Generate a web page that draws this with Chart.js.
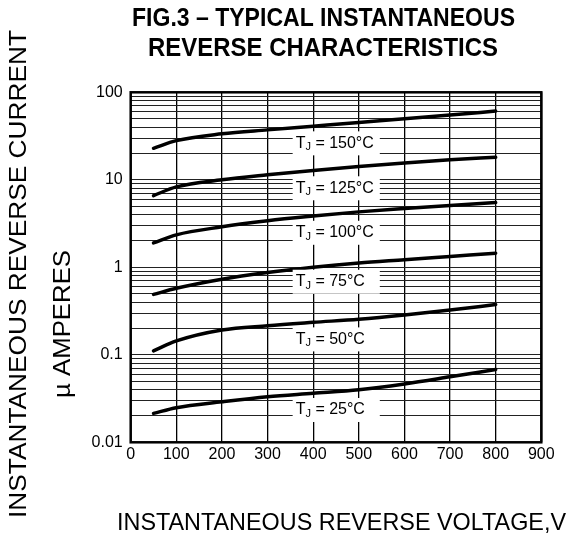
<!DOCTYPE html>
<html>
<head>
<meta charset="utf-8">
<script src="https://cdn.jsdelivr.net/npm/chart.js@4/dist/chart.umd.min.js"></script>
<style>
  html, body { margin: 0; padding: 0; background: #fff; }
  #wrap { width: 569px; height: 549px; }
</style>
</head>
<body>
<div id="wrap"><canvas id="fig3"></canvas></div>
<script>
// voltage points (V)
const voltages = [50, 100, 200, 300, 400, 500, 600, 700, 800];

// reverse current (uA) per junction temperature
const tj150 = [22.9, 28, 33.5, 37.2, 41, 45.2, 50, 55, 61];
const tj125 = [6.6, 8.3, 10.0, 11.4, 12.8, 14.2, 15.6, 16.9, 18.1];
const tj100 = [1.9, 2.35, 2.9, 3.4, 3.85, 4.3, 4.7, 5.1, 5.5];
const tj75 = [0.49, 0.575, 0.73, 0.87, 1.0, 1.12, 1.22, 1.33, 1.45];
const tj50 = [0.111, 0.144, 0.192, 0.215, 0.235, 0.255, 0.285, 0.325, 0.375];
const tj25 = [0.0214, 0.0248, 0.029, 0.0332, 0.0363, 0.0398, 0.0464, 0.056, 0.068];

const seriesNames = ['150', '125', '100', '75', '50', '25'];
const series = [tj150, tj125, tj100, tj75, tj50, tj25];
// where each curve's label sits (current value, uA)
const labelAt = [26.1, 8.0, 2.48, 0.684, 0.150, 0.0234];

const xTicks = [0, 100, 200, 300, 400, 500, 600, 700, 800, 900];
const yTickLabels = [0.01, 0.1, 1, 10, 100];

// log grid: 1..9 in every decade
const yGrid = [];
yTickLabels.forEach(function (d, i) {
  if (i === yTickLabels.length - 1) { yGrid.push(d); return; }
  for (let m = 1; m < 10; m++) yGrid.push(+(d * m).toPrecision(3));
});

function fitText(ctx, text, cx, cy, width, font, rotate) {
  ctx.save();
  ctx.font = font;
  const w = ctx.measureText(text).width;
  ctx.translate(cx, cy);
  if (rotate) ctx.rotate(-Math.PI / 2);
  ctx.scale(width / w, 1);
  ctx.textAlign = 'center';
  ctx.textBaseline = 'middle';
  ctx.fillStyle = '#000';
  ctx.fillText(text, 0, 0);
  ctx.restore();
}

const decorPlugin = {
  id: 'decor',
  afterDatasetsDraw(chart) {
    const ctx = chart.ctx;
    const a = chart.chartArea;
    const xs = chart.scales.x, ys = chart.scales.y;

    // curve labels with white boxes
    const bx0 = xs.getPixelForValue(355), bx1 = xs.getPixelForValue(546);
    seriesNames.forEach(function (n, i) {
      const cy = ys.getPixelForValue(labelAt[i]);
      ctx.save();
      ctx.fillStyle = '#fff';
      ctx.fillRect(bx0, cy - 12, bx1 - bx0, 24);
      ctx.fillStyle = '#000';
      ctx.textBaseline = 'middle';
      ctx.textAlign = 'left';
      let x = bx0 + 3;
      ctx.font = '16px "Liberation Sans", Arial, sans-serif';
      ctx.fillText('T', x, cy);
      x += ctx.measureText('T').width;
      ctx.font = '11px "Liberation Sans", Arial, sans-serif';
      ctx.fillText('J', x, cy + 4);
      x += ctx.measureText('J').width;
      ctx.font = '16px "Liberation Sans", Arial, sans-serif';
      ctx.fillText(' = ' + n + '\u00B0C', x, cy);
      ctx.restore();
    });

    // frame
    ctx.save();
    ctx.strokeStyle = '#000';
    ctx.lineWidth = 2.5;
    ctx.strokeRect(a.left, a.top, a.right - a.left, a.bottom - a.top);
    ctx.restore();

    // titles
    fitText(ctx, 'FIG.3 \u2013 TYPICAL INSTANTANEOUS', 323.5, 19, 383, 'bold 25px "Liberation Sans", Arial, sans-serif');
    fitText(ctx, 'REVERSE CHARACTERISTICS', 323, 49, 350, 'bold 25px "Liberation Sans", Arial, sans-serif');
    fitText(ctx, 'INSTANTANEOUS REVERSE VOLTAGE,V', 341.5, 523, 449, '24px "Liberation Sans", Arial, sans-serif');
    fitText(ctx, 'INSTANTANEOUS REVERSE CURRENT', 19, 274, 488, '24px "Liberation Sans", Arial, sans-serif', true);
    fitText(ctx, '\u00B5 AMPERES', 63, 324, 148, '24px "Liberation Sans", Arial, sans-serif', true);
  }
};

const ctx = document.getElementById('fig3').getContext('2d');
new Chart(ctx, {
  type: 'line',
  data: {
    datasets: series.map(function (s, i) {
      return {
        label: 'TJ = ' + seriesNames[i] + '\u00B0C',
        data: voltages.map(function (v, k) { return { x: v, y: s[k] }; }),
        borderColor: '#000',
        borderWidth: 3.5,
        pointRadius: 0,
        cubicInterpolationMode: 'monotone',
        borderCapStyle: 'round'
      };
    })
  },
  options: {
    responsive: true,
    maintainAspectRatio: false,
    animation: false,
    layout: { padding: { left: 0, top: 92.3, right: 27.7, bottom: 76.7 } },
    plugins: { legend: { display: false }, tooltip: { enabled: false }, title: { display: false } },
    scales: {
      x: {
        type: 'linear',
        min: 0, max: 900,
        afterBuildTicks: function (s) { s.ticks = xTicks.map(function (v) { return { value: v }; }); },
        afterFit: function (s) { s.height = 30; },
        grid: { color: '#000', lineWidth: 1.3, drawTicks: false },
        border: { display: false },
        ticks: {
          padding: 3,
          color: '#000',
          maxRotation: 0,
          font: { family: '"Liberation Sans", Arial, sans-serif', size: 16 }
        }
      },
      y: {
        type: 'logarithmic',
        min: 0.01, max: 100,
        afterBuildTicks: function (s) { s.ticks = yGrid.map(function (v) { return { value: v }; }); },
        afterFit: function (s) { s.width = 130.7; },
        grid: { color: '#222', lineWidth: 1, drawTicks: false },
        border: { display: false },
        ticks: {
          padding: 8,
          color: '#000',
          autoSkip: false,
          font: { family: '"Liberation Sans", Arial, sans-serif', size: 16 },
          callback: function (v) {
            return yTickLabels.indexOf(v) >= 0 ? String(v) : '';
          }
        }
      }
    }
  },
  plugins: [decorPlugin]
});
</script>
</body>
</html>
